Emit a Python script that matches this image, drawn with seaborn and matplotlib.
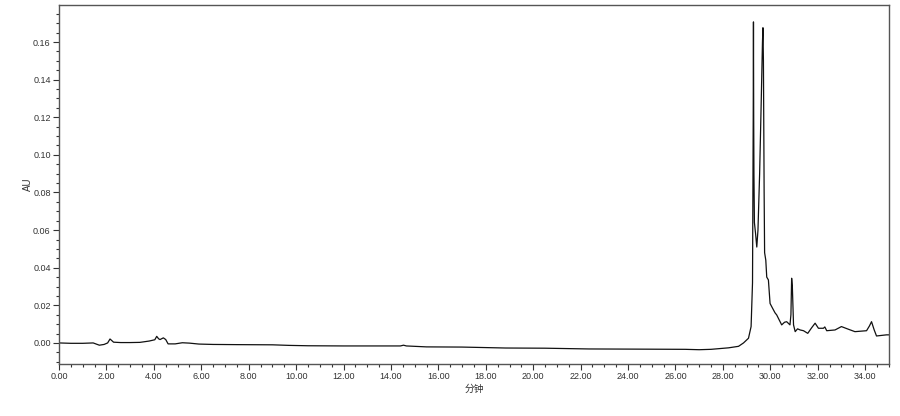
import matplotlib
matplotlib.use("Agg")
import matplotlib.pyplot as plt
from matplotlib.ticker import MultipleLocator, FormatStrFormatter
import seaborn as sns
import pandas as pd

times = [0.0, 0.5, 1.0, 1.44, 1.7, 1.9, 2.05, 2.15, 2.3, 2.6, 3.0, 3.41, 3.8, 4.04, 4.12,
         4.2, 4.26, 4.40, 4.5, 4.6, 4.9, 5.2, 5.5, 5.9, 6.5, 7.5, 9.0, 9.7, 10.5, 12.0,
         14.4, 14.53, 14.65, 15.5, 17.0, 18.84, 20.5, 22.35, 24.5, 26.41, 27.0, 27.5,
         28.24, 28.66, 28.87, 29.08, 29.19, 29.25, 29.28, 29.29, 29.30, 29.31, 29.33,
         29.38, 29.43, 29.48, 29.55, 29.62, 29.67, 29.69, 29.71, 29.74, 29.76, 29.81,
         29.85, 29.92, 29.99, 30.06, 30.2, 30.27, 30.48, 30.6, 30.69, 30.83, 30.87,
         30.90, 30.93, 30.98, 31.05, 31.15, 31.26, 31.4, 31.58, 31.74, 31.89, 32.03,
         32.24, 32.3, 32.38, 32.73, 33.0, 33.29, 33.57, 34.06, 34.18, 34.27, 34.38,
         34.48, 34.9, 35.0]
absorbance = [0.0, -0.0002, -0.0002, 0.0, -0.0012, -0.0008, 0.0, 0.0021, 0.0004, 0.0002,
              0.0002, 0.0003, 0.001, 0.0017, 0.0035, 0.0022, 0.0018, 0.0027, 0.0018,
              -0.0005, -0.0005, 0.0001, -0.0001, -0.0006, -0.0008, -0.0009, -0.001,
              -0.0013, -0.0015, -0.0016, -0.0016, -0.0012, -0.0016, -0.0021, -0.0022,
              -0.0027, -0.0028, -0.0032, -0.0033, -0.0034, -0.0036, -0.0034, -0.0026,
              -0.0018, 0.0, 0.0025, 0.0087, 0.032, 0.12, 0.1707, 0.119, 0.09, 0.064,
              0.058, 0.051, 0.06, 0.09, 0.13, 0.16, 0.1676, 0.15, 0.08, 0.048, 0.044,
              0.035, 0.0335, 0.021, 0.0193, 0.016, 0.0149, 0.0096, 0.011, 0.0113, 0.0096,
              0.015, 0.0344, 0.03, 0.0096, 0.006, 0.0075, 0.0069, 0.0065, 0.0051, 0.008,
              0.0105, 0.0078, 0.0078, 0.0085, 0.0065, 0.0069, 0.0087, 0.0073, 0.006,
              0.0065, 0.009, 0.0113, 0.007, 0.0037, 0.0043, 0.0043]

df = pd.DataFrame({"t": times, "au": absorbance})

sns.set_style("white")
plt.rcParams['font.family'] = ['Liberation Sans', 'Noto Sans CJK SC', 'DejaVu Sans']

fig = plt.figure(figsize=(9, 4.16), dpi=100)
ax = fig.add_axes([0.0656, 0.125, 0.922, 0.863])
sns.lineplot(data=df, x="t", y="au", ax=ax, color="#111111", linewidth=0.9,
             sort=False, estimator=None)

ax.set_xlim(0, 35)
ax.set_ylim(-0.0112, 0.1797)
ax.xaxis.set_major_locator(MultipleLocator(2))
ax.xaxis.set_minor_locator(MultipleLocator(0.5))
ax.yaxis.set_major_locator(MultipleLocator(0.02))
ax.yaxis.set_minor_locator(MultipleLocator(0.005))
ax.xaxis.set_major_formatter(FormatStrFormatter('%.2f'))
ax.yaxis.set_major_formatter(FormatStrFormatter('%.2f'))
ax.tick_params(axis='both', which='major', direction='out', length=4, width=0.8,
               labelsize=6.5, colors='#333333', bottom=True, left=True, pad=2)
ax.tick_params(axis='both', which='minor', direction='out', length=2.5, width=0.8,
               colors='#333333', bottom=True, left=True)
for s in ax.spines.values():
    s.set_color('#555555')
    s.set_linewidth(1.0)
ax.set_xlabel("分钟", fontsize=7, color='#333333', labelpad=2)
ax.set_ylabel("AU", fontsize=7, color='#333333', labelpad=0)

fig.savefig("out.png", dpi=100)
